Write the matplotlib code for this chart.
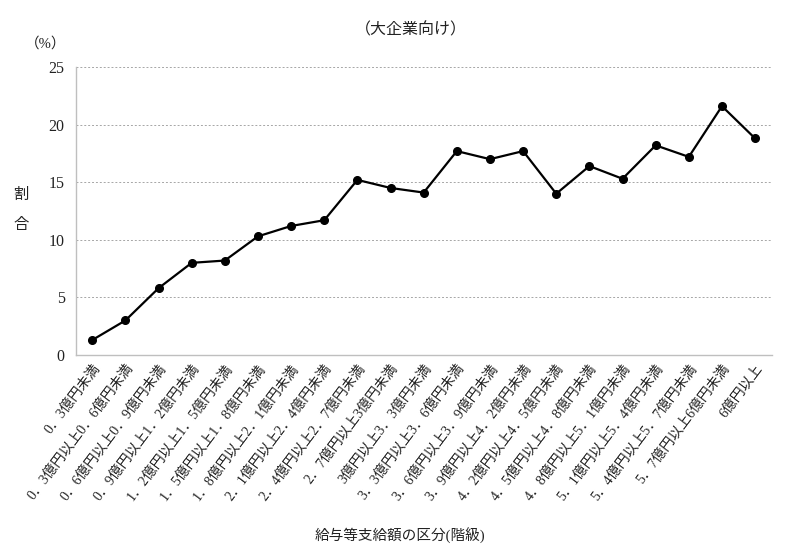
import matplotlib
matplotlib.use('Agg')
import matplotlib.pyplot as plt

plt.rcParams['font.family'] = ['Liberation Serif', 'Noto Sans CJK JP', 'DejaVu Sans']

# 給与等支給額の区分 (階級)
categories = ['0．3億円未満', '0．3億円以上0．6億円未満', '0．6億円以上0．9億円未満',
              '0．9億円以上1．2億円未満', '1．2億円以上1．5億円未満', '1．5億円以上1．8億円未満',
              '1．8億円以上2．1億円未満', '2．1億円以上2．4億円未満', '2．4億円以上2．7億円未満',
              '2．7億円以上3億円未満', '3億円以上3．3億円未満', '3．3億円以上3．6億円未満',
              '3．6億円以上3．9億円未満', '3．9億円以上4．2億円未満', '4．2億円以上4．5億円未満',
              '4．5億円以上4．8億円未満', '4．8億円以上5．1億円未満', '5．1億円以上5．4億円未満',
              '5．4億円以上5．7億円未満', '5．7億円以上6億円未満', '6億円以上']
# 割合 (%)
values = [1.3, 3.0, 5.8, 8.0, 8.2, 10.3, 11.2, 11.7, 15.2, 14.5, 14.1,
          17.7, 17.0, 17.7, 14.0, 16.4, 15.3, 18.2, 17.2, 21.6, 18.8]
yticks = [0, 5, 10, 15, 20, 25]

fig = plt.figure(figsize=(8, 5.51), dpi=100)
ax = fig.add_axes([0.0946, 0.3557, 0.87, 0.5227])

x = range(len(categories))
ax.plot(x, values, color='black', lw=1.6, marker='o', ms=5.5, zorder=3)

ax.set_xlim(-0.5, len(categories) - 0.5)
ax.set_ylim(0, 25)
ax.set_yticks(yticks)
ax.set_yticklabels([str(v) for v in yticks], fontsize=11.5, color='#222222')
ax.set_xticks(list(x))
ax.set_xticklabels(categories, rotation=53, ha='right', rotation_mode='anchor',
                   fontsize=10, color='#222222')
ax.tick_params(length=0, pad=8)
ax.tick_params(axis='x', pad=5)

ax.grid(axis='y', color='#a6a6a6', ls=(0, (2, 2)), lw=0.7)
ax.set_axisbelow(True)
for side in ['top', 'right']:
    ax.spines[side].set_visible(False)
for side in ['left', 'bottom']:
    ax.spines[side].set_color('#bfbfbf')
    ax.spines[side].set_linewidth(1.0)

fig.text(0.513, 0.945, '（大企業向け）', ha='center', va='center', fontsize=11.5, color='#222222')
fig.text(0.057, 0.92, '（%）', ha='center', va='center', fontsize=10.5, color='#222222')
fig.text(0.026, 0.647, '割', ha='center', va='center', fontsize=11, color='#222222')
fig.text(0.026, 0.592, '合', ha='center', va='center', fontsize=11, color='#222222')
fig.text(0.5, 0.028, '給与等支給額の区分(階級)', ha='center', va='center', fontsize=10.5, color='#222222')

fig.savefig('out.png', dpi=100)
